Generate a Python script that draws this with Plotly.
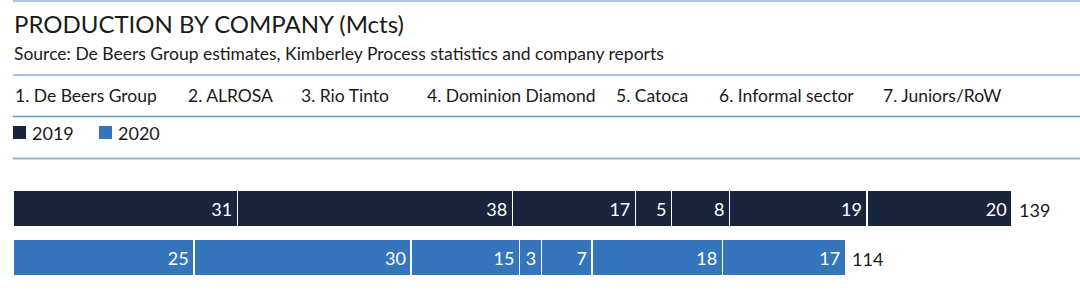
import plotly.graph_objects as go

# ---- data ----
companies = ["De Beers Group", "ALROSA", "Rio Tinto", "Dominion Diamond",
             "Catoca", "Informal sector", "Juniors/RoW"]
years = ["2019", "2020"]
values_2019 = [31, 38, 17, 5, 8, 19, 20]
values_2020 = [25, 30, 15, 3, 7, 18, 17]
totals = [139, 114]
year_colors = ["#19243d", "#3475bb"]

title = "PRODUCTION BY COMPANY (Mcts)"
source = "Source: De Beers Group estimates, Kimberley Process statistics and company reports"

FONT = "Lato"
W, H = 1080, 295
ML, MR, MT, MB = 13, 0, 184, 13
PW, PH = W - ML - MR, H - MT - MB


def px_x(x):
    return (x - ML) / PW


def px_y(y):
    return (H - MB - y) / PH


fig = go.Figure()

for i, comp in enumerate(companies):
    vals = [values_2019[i], values_2020[i]]
    fig.add_trace(go.Bar(
        y=years, x=vals, orientation="h", name=comp,
        marker=dict(color=year_colors, line=dict(color="white", width=1.5)),
        text=[str(v) + "\u2009" for v in vals], textposition="inside",
        insidetextanchor="end", constraintext="none",
        textfont=dict(color="white", size=18, family=FONT),
        showlegend=False, hoverinfo="skip",
    ))

# totals at bar ends (category index positions)
for idx, (vals, tot) in enumerate(zip([values_2019, values_2020], totals)):
    fig.add_annotation(x=sum(vals), y=idx, xref="x", yref="y", text=str(tot),
                       showarrow=False, xanchor="left", xshift=5, yshift=-1,
                       font=dict(size=18, color="#1a1a1a", family=FONT))

annots = []
annots.append(dict(x=12, y=23, text=title, size=24))
annots.append(dict(x=12, y=53, text=source, size=17.5))

list_x = [13, 186, 299, 425, 614, 717, 881]
for k, (comp, xx) in enumerate(zip(companies, list_x)):
    annots.append(dict(x=xx, y=96, text=f"{k+1}. {comp}", size=17.5))

# legend
leg_x = [13, 99]
for yr, col, xx in zip(years, year_colors, leg_x):
    fig.add_shape(type="rect", xref="paper", yref="paper",
                  x0=px_x(xx), x1=px_x(xx + 13),
                  y0=px_y(139), y1=px_y(126),
                  fillcolor=col, line=dict(width=0))
    annots.append(dict(x=xx + 17, y=133, text=yr, size=18))

for a in annots:
    fig.add_annotation(x=px_x(a["x"]), y=px_y(a["y"]), xref="paper", yref="paper",
                       text=a["text"], showarrow=False, xanchor="left", yanchor="middle",
                       font=dict(size=a["size"], color="#1a1a1a", family=FONT))

# separator lines
for yy, col, w in [(1, "#a9c5e6", 2), (75, "#a3c1e4", 2), (116.5, "#5d93d5", 1.5), (158.5, "#8fb3dd", 2)]:
    fig.add_shape(type="line", xref="paper", yref="paper",
                  x0=px_x(13), x1=px_x(W), y0=px_y(yy), y1=px_y(yy),
                  line=dict(color=col, width=w))

fig.update_layout(
    width=W, height=H, barmode="stack", bargap=0.245,
    margin=dict(l=ML, r=MR, t=MT, b=MB, pad=0),
    paper_bgcolor="white", plot_bgcolor="white",
    xaxis=dict(range=[0, 147.4], visible=False, fixedrange=True),
    yaxis=dict(type="category", categoryorder="array", categoryarray=years,
               range=[1.5, -0.5], visible=False, fixedrange=True),
    font=dict(family=FONT),
)

fig.write_html("out.html", config={"displayModeBar": False})
